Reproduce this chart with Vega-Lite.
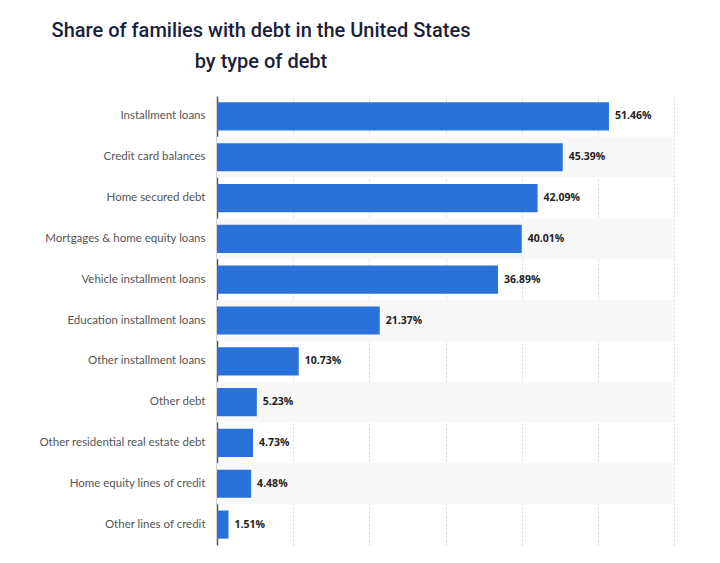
{
  "$schema": "https://vega.github.io/schema/vega-lite/v6.json",
  "autosize": "none",
  "padding": {"left": 217, "top": 96, "right": 46, "bottom": 18},
  "width": 457,
  "height": 449,
  "background": "white",
  "title": {
    "text": ["Share of families with debt in the United States", "by type of debt"],
    "anchor": "start",
    "frame": "group",
    "align": "center",
    "dx": 44,
    "baseline": "alphabetic",
    "offset": 8,
    "lineHeight": 31,
    "font": "Roboto",
    "fontSize": 20,
    "fontWeight": 500,
    "color": "#1b1f3a"
  },
  "data": {
    "values": [
      {"type": "Installment loans", "value": 51.46},
      {"type": "Credit card balances", "value": 45.39},
      {"type": "Home secured debt", "value": 42.09},
      {"type": "Mortgages & home equity loans", "value": 40.01},
      {"type": "Vehicle installment loans", "value": 36.89},
      {"type": "Education installment loans", "value": 21.37},
      {"type": "Other installment loans", "value": 10.73},
      {"type": "Other debt", "value": 5.23},
      {"type": "Other residential real estate debt", "value": 4.73},
      {"type": "Home equity lines of credit", "value": 4.48},
      {"type": "Other lines of credit", "value": 1.51}
    ]
  },
  "encoding": {
    "y": {
      "field": "type",
      "type": "nominal",
      "sort": ["Installment loans", "Credit card balances", "Home secured debt", "Mortgages & home equity loans", "Vehicle installment loans", "Education installment loans", "Other installment loans", "Other debt", "Other residential real estate debt", "Home equity lines of credit", "Other lines of credit"],
      "scale": {"paddingInner": 0, "paddingOuter": 0},
      "axis": {
        "title": null,
        "ticks": false,
        "domain": true,
        "domainColor": "#555555",
        "domainWidth": 1.5,
        "labelPadding": 12,
        "labelColor": "#555555",
        "labelFont": "Lato",
        "labelFontSize": 11.5,
        "grid": false
      }
    }
  },
  "layer": [
    {
      "transform": [
        {"window": [{"op": "row_number", "as": "rn"}], "sort": [{"field": "value", "order": "descending"}]},
        {"filter": "datum.rn % 2 == 0"}
      ],
      "mark": {"type": "bar", "height": {"band": 1}, "color": "#f8f8f8"},
      "encoding": {
        "x": {"datum": 60, "type": "quantitative"}
      }
    },
    {
      "mark": {"type": "bar", "height": {"band": 0.69}, "color": "#2a71d9"},
      "encoding": {
        "x": {
          "field": "value",
          "type": "quantitative",
          "scale": {"domain": [0, 60], "nice": false},
          "axis": {
            "title": null,
            "labels": false,
            "ticks": false,
            "domain": false,
            "grid": true,
            "values": [10, 20, 30, 40, 50, 60],
            "gridColor": "#d8d8d8",
            "gridDash": [2, 2],
            "gridWidth": 1
          }
        }
      }
    },
    {
      "transform": [{"calculate": "format(datum.value, '.2f') + '%'", "as": "label"}],
      "mark": {"type": "text", "align": "left", "dx": 6, "font": "Open Sans", "fontSize": 10.5, "fontWeight": "bold", "color": "#222222"},
      "encoding": {
        "x": {"field": "value", "type": "quantitative"},
        "text": {"field": "label"}
      }
    }
  ],
  "config": {
    "view": {"stroke": null}
  }
}
